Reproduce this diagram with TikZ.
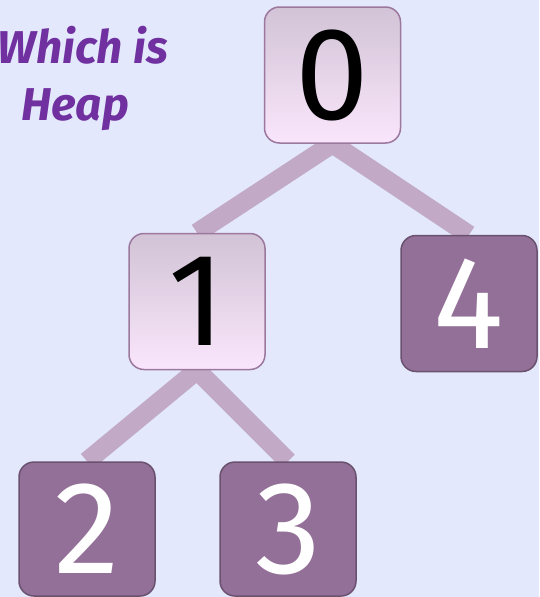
\documentclass[tikz,border=0pt]{standalone}
\usepackage{fontspec}
\setmainfont{Fira Sans}
\usetikzlibrary{backgrounds}
\definecolor{bgc}{HTML}{E3E8FC}
\definecolor{lighttop}{HTML}{D2C3D6}
\definecolor{lightbot}{HTML}{FAE6FC}
\definecolor{lightborder}{HTML}{9C789F}
\definecolor{darkfill}{HTML}{937097}
\definecolor{darkborder}{HTML}{6B5170}
\definecolor{edgec}{HTML}{C2A9C5}
\definecolor{titlec}{HTML}{7030A0}
\tikzset{
  keybox/.style={rectangle, rounded corners=15pt, minimum width=136pt, minimum height=136pt,
    inner sep=0pt, line width=1.5pt, font=\fontsize{132}{132}\selectfont},
  lightkey/.style={keybox, draw=lightborder, top color=lighttop, bottom color=lightbot, text=black},
  darkkey/.style={keybox, draw=darkborder, fill=darkfill, text=white},
  treeedge/.style={draw=edgec, line width=19pt},
  titletext/.style={text=titlec, inner sep=0pt, font=\fontsize{46}{55}\selectfont\bfseries\itshape}
}
\begin{document}
\begin{tikzpicture}[x=1pt,y=-1pt]
\useasboundingbox (0,0) rectangle (539,597);
\clip (0,0) rectangle (539,597);
\node[lightkey] (n0) at (332.5,75) {0};
\node[lightkey] (n1) at (197,301.5) {1};
\node[darkkey] (n4) at (469,303.5) {4};
\node[darkkey, minimum height=134pt] (n2) at (87,529) {2};
\node[darkkey, minimum height=134pt] (n3) at (288,529) {3};
\node[titletext, anchor=base east] (t1) at (168,63) {Which is};
\node[titletext, anchor=base] (t2) at (75,120) {Heap};
\begin{scope}[on background layer]
\fill[bgc] (0,0) rectangle (539,597);
\draw[treeedge] (n0.south) -- (n1.north);
\draw[treeedge] (n0.south) -- (n4.north);
\draw[treeedge] (n1.south) -- (n2.north);
\draw[treeedge] (n1.south) -- (n3.north);
\end{scope}
\end{tikzpicture}
\end{document}
